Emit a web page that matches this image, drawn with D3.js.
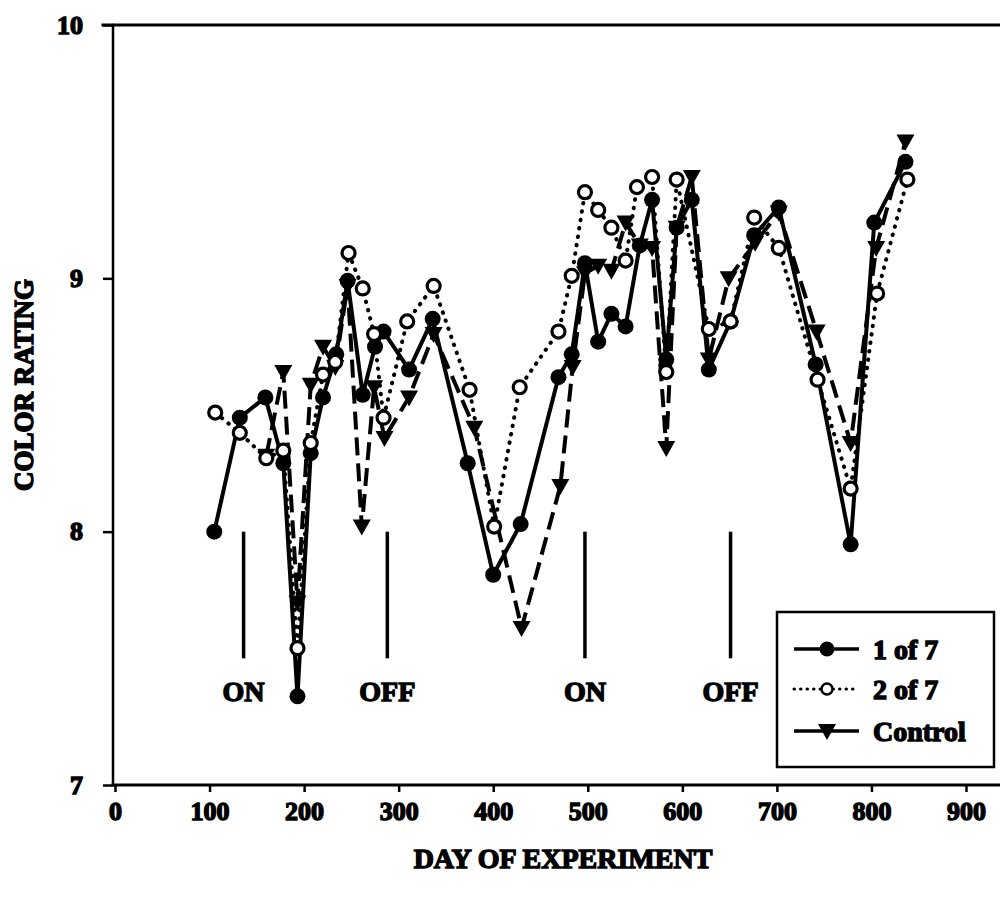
<!DOCTYPE html>
<html>
<head>
<meta charset="utf-8">
<script src="https://cdn.jsdelivr.net/npm/d3@7"></script>
<style>
  html, body { margin: 0; padding: 0; background: #fff; }
  svg { display: block; }
  text { font-family: "Liberation Serif", "Times New Roman", serif; font-weight: bold; fill: #000; }
</style>
</head>
<body>
<svg id="chart" width="1000" height="898"></svg>
<script>
// Colour rating over the course of the experiment, three treatment groups
const oneOf7Days   = [105, 132, 159, 178, 193, 207, 220, 234, 246, 262, 275, 284, 311, 336, 373, 400, 429, 469, 483, 497, 511, 525, 540, 555, 568, 583, 594, 610, 628, 651, 676, 702, 741, 778, 803, 836];
const oneOf7Values = [8.00, 8.45, 8.53, 8.27, 7.35, 8.31, 8.53, 8.70, 8.99, 8.54, 8.73, 8.79, 8.64, 8.84, 8.27, 7.83, 8.03, 8.61, 8.70, 9.06, 8.75, 8.86, 8.81, 9.13, 9.31, 8.68, 9.20, 9.31, 8.64, 8.83, 9.17, 9.28, 8.66, 7.95, 9.22, 9.46];

const twoOf7Days   = [106, 132, 160, 178, 193, 207, 220, 233, 247, 262, 274, 284, 309, 337, 375, 401, 428, 469, 483, 497, 511, 525, 540, 552, 568, 583, 594, 628, 651, 676, 702, 743, 778, 806, 838];
const twoOf7Values = [8.47, 8.39, 8.29, 8.32, 7.54, 8.35, 8.62, 8.67, 9.10, 8.96, 8.78, 8.45, 8.83, 8.97, 8.56, 8.02, 8.57, 8.79, 9.01, 9.34, 9.27, 9.20, 9.07, 9.36, 9.40, 8.63, 9.39, 8.80, 8.83, 9.24, 9.12, 8.60, 8.17, 8.94, 9.39];

const controlDays   = [160, 178, 193, 207, 220, 233, 246, 261, 274, 285, 311, 337, 380, 430, 471, 484, 497, 511, 525, 540, 555, 568, 583, 594, 610, 628, 649, 677, 702, 742, 778, 805, 836];
const controlValues = [8.30, 8.63, 7.72, 8.58, 8.73, 8.65, 8.97, 8.02, 8.57, 8.37, 8.53, 8.78, 8.41, 7.62, 8.18, 8.65, 9.02, 9.05, 9.03, 9.22, 9.13, 9.12, 8.33, 9.20, 9.40, 8.68, 9.00, 9.14, 9.26, 8.79, 8.35, 9.12, 9.54];

const eventDays   = [136, 288, 497, 651];
const eventLabels = ["ON", "OFF", "ON", "OFF"];

const xTicks = [0, 100, 200, 300, 400, 500, 600, 700, 800, 900];
const yTicks = [7, 8, 9, 10];

const seriesNames = ["1 of 7", "2 of 7", "Control"];

const svg = d3.select("#chart");
const W = 1000;
const heavy = 1.4; // outline added to glyphs for the heavy bold face

const x = d3.scaleLinear().domain([0, 900]).range([115, 966]);
const y = d3.scaleLinear().domain([7, 10]).range([785, 25]);

// Frame: top rule, left axis, bottom axis
const frame = svg.append("g").attr("stroke", "#000").attr("stroke-linecap", "square");
frame.append("line").attr("x1", 103).attr("x2", W).attr("y1", y(10)).attr("y2", y(10)).attr("stroke-width", 3);
frame.append("line").attr("x1", x(0) - 2).attr("x2", x(0) - 2).attr("y1", y(10)).attr("y2", y(7)).attr("stroke-width", 2.5);
frame.append("line").attr("x1", x(0) - 2).attr("x2", W).attr("y1", y(7)).attr("y2", y(7)).attr("stroke-width", 3);

// Axes
const xAxis = svg.append("g")
  .attr("transform", `translate(0,${y(7)})`)
  .call(d3.axisBottom(x).tickValues(xTicks).tickSize(7).tickPadding(10).tickFormat(d3.format("d")));
xAxis.select(".domain").remove();
xAxis.selectAll(".tick line").attr("stroke", "#000").attr("stroke-width", 2.5);
xAxis.selectAll(".tick text")
  .attr("font-size", 26).attr("font-family", null)
  .attr("stroke", "#000").attr("stroke-width", heavy);

const yAxis = svg.append("g")
  .attr("transform", `translate(${x(0) - 2},0)`)
  .call(d3.axisLeft(y).tickValues(yTicks).tickSize(10).tickPadding(20).tickFormat(d3.format("d")));
yAxis.select(".domain").remove();
yAxis.selectAll(".tick line").attr("stroke", "#000").attr("stroke-width", 2.5);
yAxis.selectAll(".tick text")
  .attr("font-size", 26).attr("font-family", null)
  .attr("stroke", "#000").attr("stroke-width", heavy);

// Axis titles
svg.append("text")
  .attr("x", 563).attr("y", 868)
  .attr("text-anchor", "middle")
  .attr("font-size", 28)
  .attr("stroke", "#000").attr("stroke-width", heavy)
  .text("DAY OF EXPERIMENT");

svg.append("text")
  .attr("transform", "translate(33,385) rotate(-90)")
  .attr("text-anchor", "middle")
  .attr("font-size", 27)
  .attr("stroke", "#000").attr("stroke-width", heavy)
  .text("COLOR RATING");

// Treatment switch markers
const ev = svg.append("g");
ev.selectAll("line").data(eventDays).join("line")
  .attr("x1", d => x(d)).attr("x2", d => x(d))
  .attr("y1", y(8)).attr("y2", y(7.5))
  .attr("stroke", "#000").attr("stroke-width", 3.5);
ev.selectAll("text").data(eventDays).join("text")
  .attr("x", d => x(d)).attr("y", 701)
  .attr("text-anchor", "middle")
  .attr("font-size", 28)
  .attr("stroke", "#000").attr("stroke-width", heavy)
  .text((d, i) => eventLabels[i]);

// Series
const line = d3.line().x(d => x(d[0])).y(d => y(d[1]));
const zip = (a, b) => a.map((d, i) => [d, b[i]]);

const ctrl = zip(controlDays, controlValues);
const one = zip(oneOf7Days, oneOf7Values);
const two = zip(twoOf7Days, twoOf7Values);

const triPath = "M-9,-7L9,-7L0,9Z";

svg.append("path").datum(ctrl).attr("d", line)
  .attr("fill", "none").attr("stroke", "#000")
  .attr("stroke-width", 4).attr("stroke-dasharray", "18,8");
svg.append("path").datum(one).attr("d", line)
  .attr("fill", "none").attr("stroke", "#000")
  .attr("stroke-width", 4).attr("stroke-linejoin", "round");
svg.append("path").datum(two).attr("d", line)
  .attr("fill", "none").attr("stroke", "#000")
  .attr("stroke-width", 4).attr("stroke-dasharray", "0.5,8")
  .attr("stroke-linecap", "round");

svg.append("g").selectAll("path").data(ctrl).join("path")
  .attr("d", triPath)
  .attr("transform", d => `translate(${x(d[0])},${y(d[1])})`)
  .attr("fill", "#000");
svg.append("g").selectAll("circle").data(one).join("circle")
  .attr("cx", d => x(d[0])).attr("cy", d => y(d[1])).attr("r", 8)
  .attr("fill", "#000");
svg.append("g").selectAll("circle").data(two).join("circle")
  .attr("cx", d => x(d[0])).attr("cy", d => y(d[1])).attr("r", 6.5)
  .attr("fill", "#fff").attr("stroke", "#000").attr("stroke-width", 3.2);

// Legend
const lg = svg.append("g");
lg.append("rect")
  .attr("x", 777).attr("y", 612).attr("width", 217).attr("height", 155)
  .attr("fill", "#fff").attr("stroke", "#000").attr("stroke-width", 2.5);
const rowsY = [649, 689, 731];
rowsY.forEach((ry, i) => {
  const ln = lg.append("line")
    .attr("x1", 794).attr("x2", 859).attr("y1", ry).attr("y2", ry)
    .attr("stroke", "#000").attr("stroke-width", i === 1 ? 3 : 3.5);
  if (i === 1) ln.attr("stroke-dasharray", "0.5,6").attr("stroke-linecap", "round");
  if (i === 0) {
    lg.append("circle").attr("cx", 827).attr("cy", ry).attr("r", 7.5).attr("fill", "#000");
  } else if (i === 1) {
    lg.append("circle").attr("cx", 827).attr("cy", ry).attr("r", 5.5)
      .attr("fill", "#fff").attr("stroke", "#000").attr("stroke-width", 2.5);
  } else {
    lg.append("path").attr("d", triPath).attr("transform", `translate(827,${ry})`).attr("fill", "#000");
  }
  lg.append("text")
    .attr("x", 873).attr("y", ry + 10)
    .attr("font-size", 28)
    .attr("stroke", "#000").attr("stroke-width", heavy)
    .text(seriesNames[i]);
});
</script>
</body>
</html>
